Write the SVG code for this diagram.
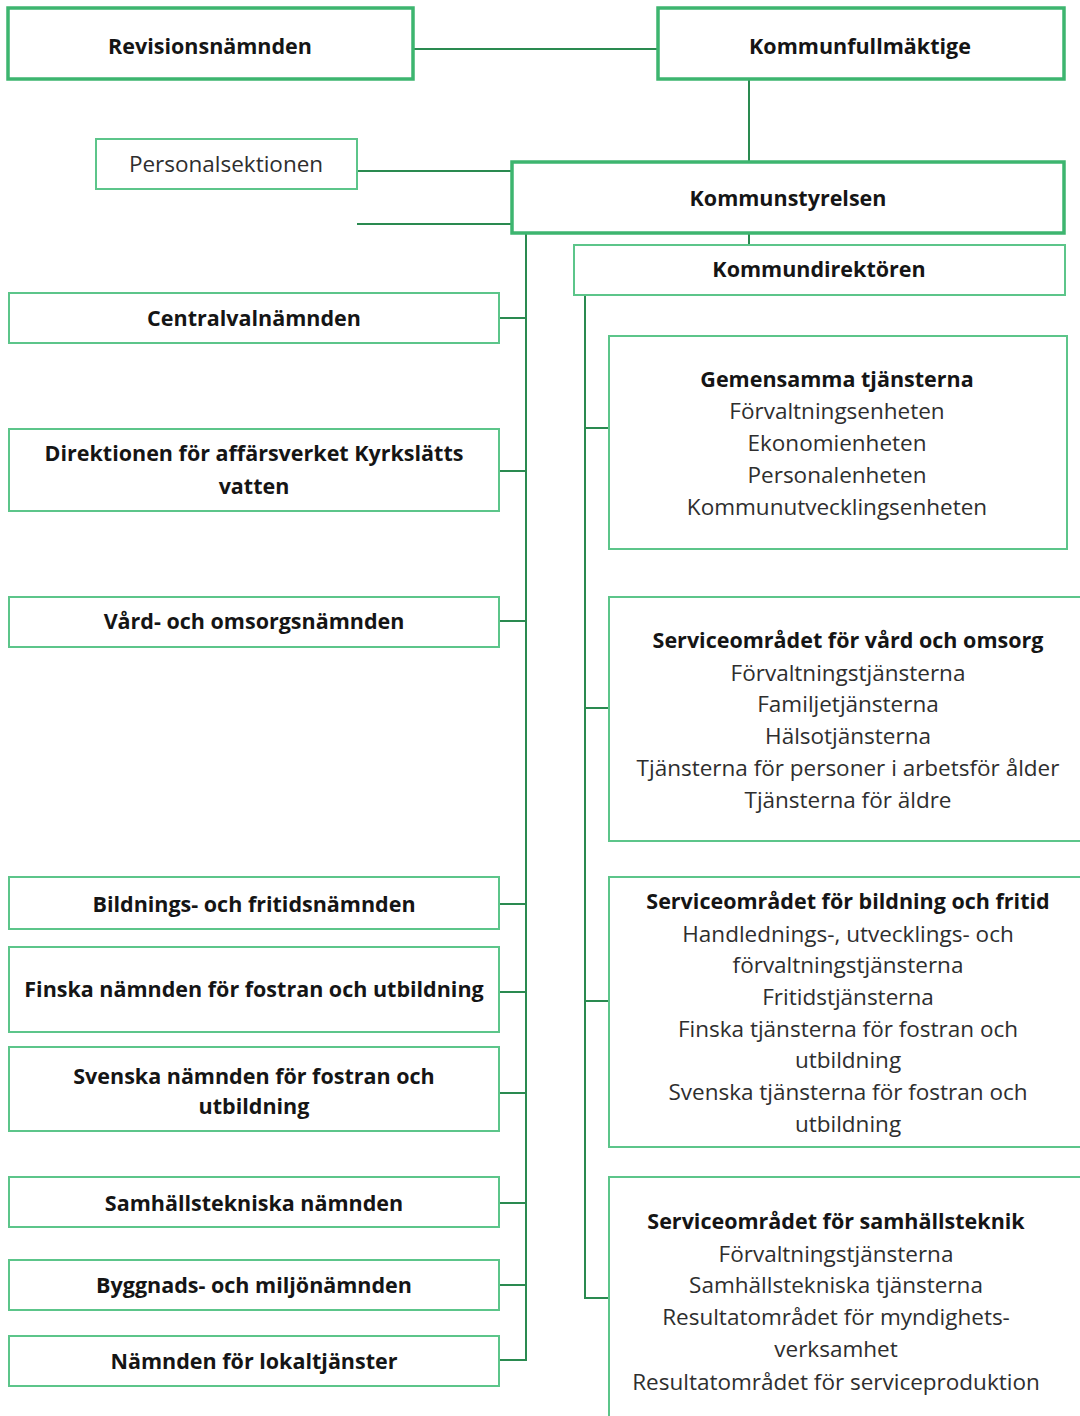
<svg xmlns="http://www.w3.org/2000/svg" width="1080" height="1416" viewBox="0 0 1080 1416">
<style>
.thick{fill:#fff;stroke:#3db56f;stroke-width:3.5}
.thin{fill:#fff;stroke:#5cc58a;stroke-width:2}
.c{fill:none;stroke:#2a8a50;stroke-width:2}
text{font-family:"Open Sans","Noto Sans","Liberation Sans",sans-serif;font-size:22.5px;text-anchor:middle;fill:#2e2e2e}
.b{font-weight:bold;font-size:21.5px;fill:#151515}
</style>
<rect width="1080" height="1416" fill="#fff"/>
<g id="connectors">
<path class="c" d="M413 49H658"/>
<path class="c" d="M749 79V162"/>
<path class="c" d="M357 171H512"/>
<path class="c" d="M357 224H512"/>
<path class="c" d="M749 233V245"/>
<path class="c" d="M526 233V1361"/>
<path class="c" d="M499 318H526M499 471H526M499 621H526M499 904H526M499 992H526M499 1093H526M499 1203H526M499 1285H526M499 1360H526"/>
<path class="c" d="M585 295V1299"/>
<path class="c" d="M585 428H609M585 708H609M585 1001H609M585 1298H609"/>
</g>
<g id="revisionsnamnden"><rect class="thick" x="8" y="8" width="405" height="71"/><text class="b" x="210" y="54">Revisionsnämnden</text></g>
<g id="kommunfullmaktige"><rect class="thick" x="658" y="8" width="406" height="71"/><text class="b" x="860" y="54">Kommunfullmäktige</text></g>
<g id="personalsektionen"><rect class="thin" x="96" y="139" width="261" height="50"/><text x="226" y="172">Personalsektionen</text></g>
<g id="kommunstyrelsen"><rect class="thick" x="512" y="162" width="552" height="71"/><text class="b" x="788" y="206">Kommunstyrelsen</text></g>
<g id="kommundirektoren"><rect class="thin" x="574" y="245" width="491" height="50"/><text class="b" x="819" y="277">Kommundirektören</text></g>
<g id="centralvalnamnden"><rect class="thin" x="9" y="293" width="490" height="50"/><text class="b" x="254" y="326">Centralvalnämnden</text></g>
<g id="direktionen"><rect class="thin" x="9" y="429" width="490" height="82"/><text class="b" x="254" y="461">Direktionen för affärsverket Kyrkslätts</text><text class="b" x="254" y="494">vatten</text></g>
<g id="vard-namnden"><rect class="thin" x="9" y="597" width="490" height="50"/><text class="b" x="254" y="629">Vård- och omsorgsnämnden</text></g>
<g id="bildning-namnden"><rect class="thin" x="9" y="877" width="490" height="52"/><text class="b" x="254" y="912">Bildnings- och fritidsnämnden</text></g>
<g id="finska-namnden"><rect class="thin" x="9" y="947" width="490" height="85"/><text class="b" x="254" y="997">Finska nämnden för fostran och utbildning</text></g>
<g id="svenska-namnden"><rect class="thin" x="9" y="1047" width="490" height="84"/><text class="b" x="254" y="1084">Svenska nämnden för fostran och</text><text class="b" x="254" y="1114">utbildning</text></g>
<g id="samhallstekniska-namnden"><rect class="thin" x="9" y="1177" width="490" height="50"/><text class="b" x="254" y="1211">Samhällstekniska nämnden</text></g>
<g id="byggnads-namnden"><rect class="thin" x="9" y="1260" width="490" height="50"/><text class="b" x="254" y="1293">Byggnads- och miljönämnden</text></g>
<g id="lokaltjanster-namnden"><rect class="thin" x="9" y="1336" width="490" height="50"/><text class="b" x="254" y="1369">Nämnden för lokaltjänster</text></g>
<g id="gemensamma"><rect class="thin" x="609" y="336" width="458" height="213"/>
<text class="b" x="837" y="387">Gemensamma tjänsterna</text>
<text x="837" y="419">Förvaltningsenheten</text>
<text x="837" y="451">Ekonomienheten</text>
<text x="837" y="483">Personalenheten</text>
<text x="837" y="515">Kommunutvecklingsenheten</text></g>
<g id="vard-omrade"><rect class="thin" x="609" y="597" width="480" height="244"/>
<text class="b" x="848" y="648">Serviceområdet för vård och omsorg</text>
<text x="848" y="681">Förvaltningstjänsterna</text>
<text x="848" y="712">Familjetjänsterna</text>
<text x="848" y="744">Hälsotjänsterna</text>
<text x="848" y="776">Tjänsterna för personer i arbetsför ålder</text>
<text x="848" y="808">Tjänsterna för äldre</text></g>
<g id="bildning-omrade"><rect class="thin" x="609" y="877" width="480" height="270"/>
<text class="b" x="848" y="909">Serviceområdet för bildning och fritid</text>
<text x="848" y="942">Handlednings-, utvecklings- och</text>
<text x="848" y="973">förvaltningstjänsterna</text>
<text x="848" y="1005">Fritidstjänsterna</text>
<text x="848" y="1037">Finska tjänsterna för fostran och</text>
<text x="848" y="1068">utbildning</text>
<text x="848" y="1100">Svenska tjänsterna för fostran och</text>
<text x="848" y="1132">utbildning</text></g>
<g id="samhallsteknik-omrade"><rect class="thin" x="609" y="1177" width="480" height="260"/>
<text class="b" x="836" y="1229">Serviceområdet för samhällsteknik</text>
<text x="836" y="1262">Förvaltningstjänsterna</text>
<text x="836" y="1293">Samhällstekniska tjänsterna</text>
<text x="836" y="1325">Resultatområdet för myndighets-</text>
<text x="836" y="1357">verksamhet</text>
<text x="836" y="1390">Resultatområdet för serviceproduktion</text></g>
</svg>
